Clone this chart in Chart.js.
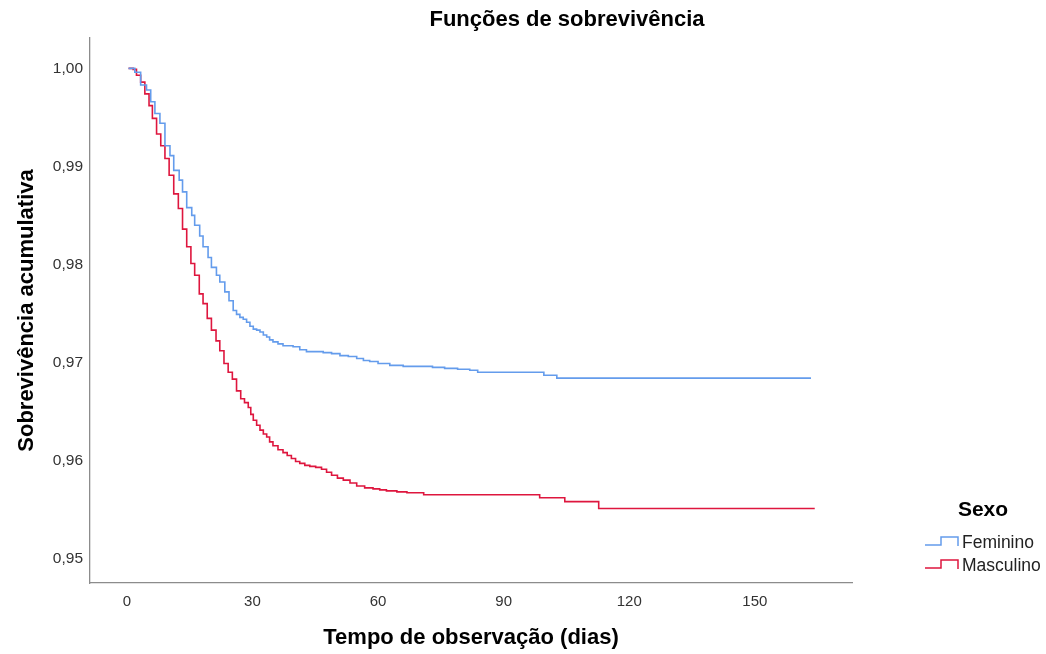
<!DOCTYPE html>
<html>
<head>
<meta charset="utf-8">
<script src="https://cdn.jsdelivr.net/npm/chart.js@4"></script>
<style>
  html, body { margin: 0; padding: 0; background: #fff; }
  #wrap { width: 1046px; height: 654px; }
</style>
</head>
<body>
<div id="wrap"><canvas id="survChart" width="1046" height="654"></canvas></div>
<script>
// dados (dias, sobrevivência)
const femDays = [0.4, 1.9, 3.3, 4.7, 5.7, 6.7, 7.9, 9.1, 10.3, 11.2, 12.5, 13.3, 14.3, 15.5, 16.2, 17.4, 18.2, 19.4, 20.2, 21.4, 22.2, 23.4, 24.4, 25.4, 26.2, 27.0, 27.8, 28.6, 29.4, 30.2, 31.0, 31.8, 32.6, 33.4, 34.1, 34.9, 36.1, 37.3, 38.5, 39.7, 41.3, 42.9, 44.9, 46.9, 48.9, 50.9, 52.9, 54.9, 56.5, 58.0, 60.0, 62.8, 66.0, 73.0, 75.9, 79.0, 81.9, 83.8, 99.6, 102.7, 163.4];
const femSurv = [1.0000, 0.9996, 0.9983, 0.9978, 0.9966, 0.9954, 0.9944, 0.9921, 0.9911, 0.9896, 0.9886, 0.9874, 0.9858, 0.9850, 0.9840, 0.9829, 0.9818, 0.9807, 0.9797, 0.9789, 0.9782, 0.9772, 0.9763, 0.9753, 0.9749, 0.9746, 0.9744, 0.9741, 0.9737, 0.9734, 0.9733, 0.9731, 0.9728, 0.9726, 0.9723, 0.9721, 0.9719, 0.9717, 0.9717, 0.9716, 0.9713, 0.9711, 0.9711, 0.9710, 0.9709, 0.9707, 0.9706, 0.9704, 0.9702, 0.9701, 0.9699, 0.9697, 0.9696, 0.9695, 0.9694, 0.9693, 0.9692, 0.9690, 0.9687, 0.9684, 0.9684];

const mascDays = [0.4, 1.5, 2.3, 3.3, 4.3, 5.3, 6.1, 7.1, 8.1, 9.1, 10.1, 11.2, 12.3, 13.3, 14.3, 15.3, 16.2, 17.3, 18.2, 19.2, 20.2, 21.3, 22.2, 23.2, 24.2, 25.2, 26.2, 27.2, 28.1, 29.0, 29.6, 30.2, 31.0, 31.8, 32.6, 33.4, 34.1, 34.9, 36.1, 37.3, 38.3, 39.3, 40.3, 41.3, 42.5, 43.7, 45.1, 46.5, 47.7, 48.9, 50.3, 51.7, 53.3, 54.9, 56.8, 58.8, 60.4, 62.0, 64.5, 66.9, 70.9, 98.6, 104.6, 112.7, 164.3];
const mascSurv = [1.0000, 0.9999, 0.9993, 0.9986, 0.9974, 0.9962, 0.9949, 0.9933, 0.9921, 0.9908, 0.9891, 0.9872, 0.9857, 0.9836, 0.9818, 0.9801, 0.9789, 0.9770, 0.9760, 0.9745, 0.9733, 0.9722, 0.9712, 0.9699, 0.9690, 0.9683, 0.9671, 0.9663, 0.9659, 0.9654, 0.9647, 0.9641, 0.9636, 0.9631, 0.9627, 0.9624, 0.9619, 0.9615, 0.9611, 0.9608, 0.9605, 0.9602, 0.9599, 0.9597, 0.9595, 0.9594, 0.9593, 0.9591, 0.9588, 0.9585, 0.9582, 0.9580, 0.9577, 0.9574, 0.9572, 0.9571, 0.9570, 0.9569, 0.9568, 0.9567, 0.9565, 0.9562, 0.9558, 0.9551, 0.9551];

const xTicks = [0, 30, 60, 90, 120, 150];
const yTicks = [0.95, 0.96, 0.97, 0.98, 0.99, 1.00];
const groupNames = ['Feminino', 'Masculino'];

const blue = 'rgb(100, 156, 236)';
const red = 'rgb(222, 22, 62)';
const fontName = '"Liberation Sans", Arial, sans-serif';

function toPoints(xs, ys) {
    return xs.map((x, i) => ({ x: x, y: ys[i] }));
}

// título e legenda desenhados à parte (estilo SPSS)
const extras = {
    id: 'extras',
    afterDraw(chart) {
        const c = chart.ctx;
        c.save();
        c.fillStyle = '#000';
        c.textBaseline = 'middle';
        c.textAlign = 'center';
        c.font = 'bold 22px ' + fontName;
        c.fillText('Funções de sobrevivência', 567, 20);
        c.font = 'bold 21px ' + fontName;
        c.fillText('Sexo', 983, 510);

        const colors = [blue, red];
        c.font = '17.5px ' + fontName;
        c.textAlign = 'left';
        groupNames.forEach((name, i) => {
            const y = 543 + i * 23;
            c.strokeStyle = colors[i];
            c.lineWidth = 1.5;
            c.beginPath();
            c.moveTo(925, y + 2);
            c.lineTo(941, y + 2);
            c.lineTo(941, y - 6);
            c.lineTo(958, y - 6);
            c.lineTo(958, y + 3);
            c.stroke();
            c.fillStyle = '#222';
            c.fillText(name, 962, y);
        });
        c.restore();
    }
};

const ctx = document.getElementById('survChart').getContext('2d');
const survChart = new Chart(ctx, {
    type: 'line',
    data: {
        datasets: [{
            label: groupNames[0],
            data: toPoints(femDays, femSurv),
            borderColor: blue,
            borderWidth: 1.6,
            pointRadius: 0,
            stepped: 'before',
            fill: false
        }, {
            label: groupNames[1],
            data: toPoints(mascDays, mascSurv),
            borderColor: red,
            borderWidth: 1.6,
            pointRadius: 0,
            stepped: 'before',
            fill: false
        }]
    },
    options: {
        responsive: false,
        animation: false,
        layout: { padding: { top: 38, right: 194, left: 0, bottom: 0 } },
        plugins: {
            legend: { display: false },
            title: { display: false },
            tooltip: { enabled: false }
        },
        scales: {
            x: {
                type: 'linear',
                min: -8.8,
                max: 173.2,
                afterBuildTicks: (scale) => { scale.ticks = xTicks.map(v => ({ value: v })); },
                afterFit: (scale) => { scale.height = 71; },
                grid: { display: false, drawTicks: false },
                border: { display: true, color: '#8c8c8c', width: 1.3 },
                ticks: {
                    padding: 10,
                    color: '#333',
                    font: { family: fontName, size: 15 },
                    maxRotation: 0,
                    callback: (v) => String(v)
                },
                title: {
                    display: true,
                    text: 'Tempo de observação (dias)',
                    color: '#000',
                    font: { family: fontName, size: 22, weight: 'bold' },
                    padding: { top: 0, bottom: 3 }
                }
            },
            y: {
                min: 0.9475,
                max: 1.0031,
                afterBuildTicks: (scale) => { scale.ticks = yTicks.map(v => ({ value: v })); },
                afterFit: (scale) => { scale.width = 90; },
                grid: { display: false, drawTicks: false },
                border: { display: true, color: '#8c8c8c', width: 1.3 },
                ticks: {
                    padding: 7,
                    color: '#333',
                    font: { family: fontName, size: 15.5 },
                    callback: (v) => v.toFixed(2).replace('.', ',')
                },
                title: {
                    display: true,
                    text: 'Sobrevivência acumulativa',
                    color: '#000',
                    font: { family: fontName, size: 22, weight: 'bold' },
                    padding: { top: 14, bottom: 0 }
                }
            }
        }
    },
    plugins: [extras]
});
</script>
</body>
</html>
